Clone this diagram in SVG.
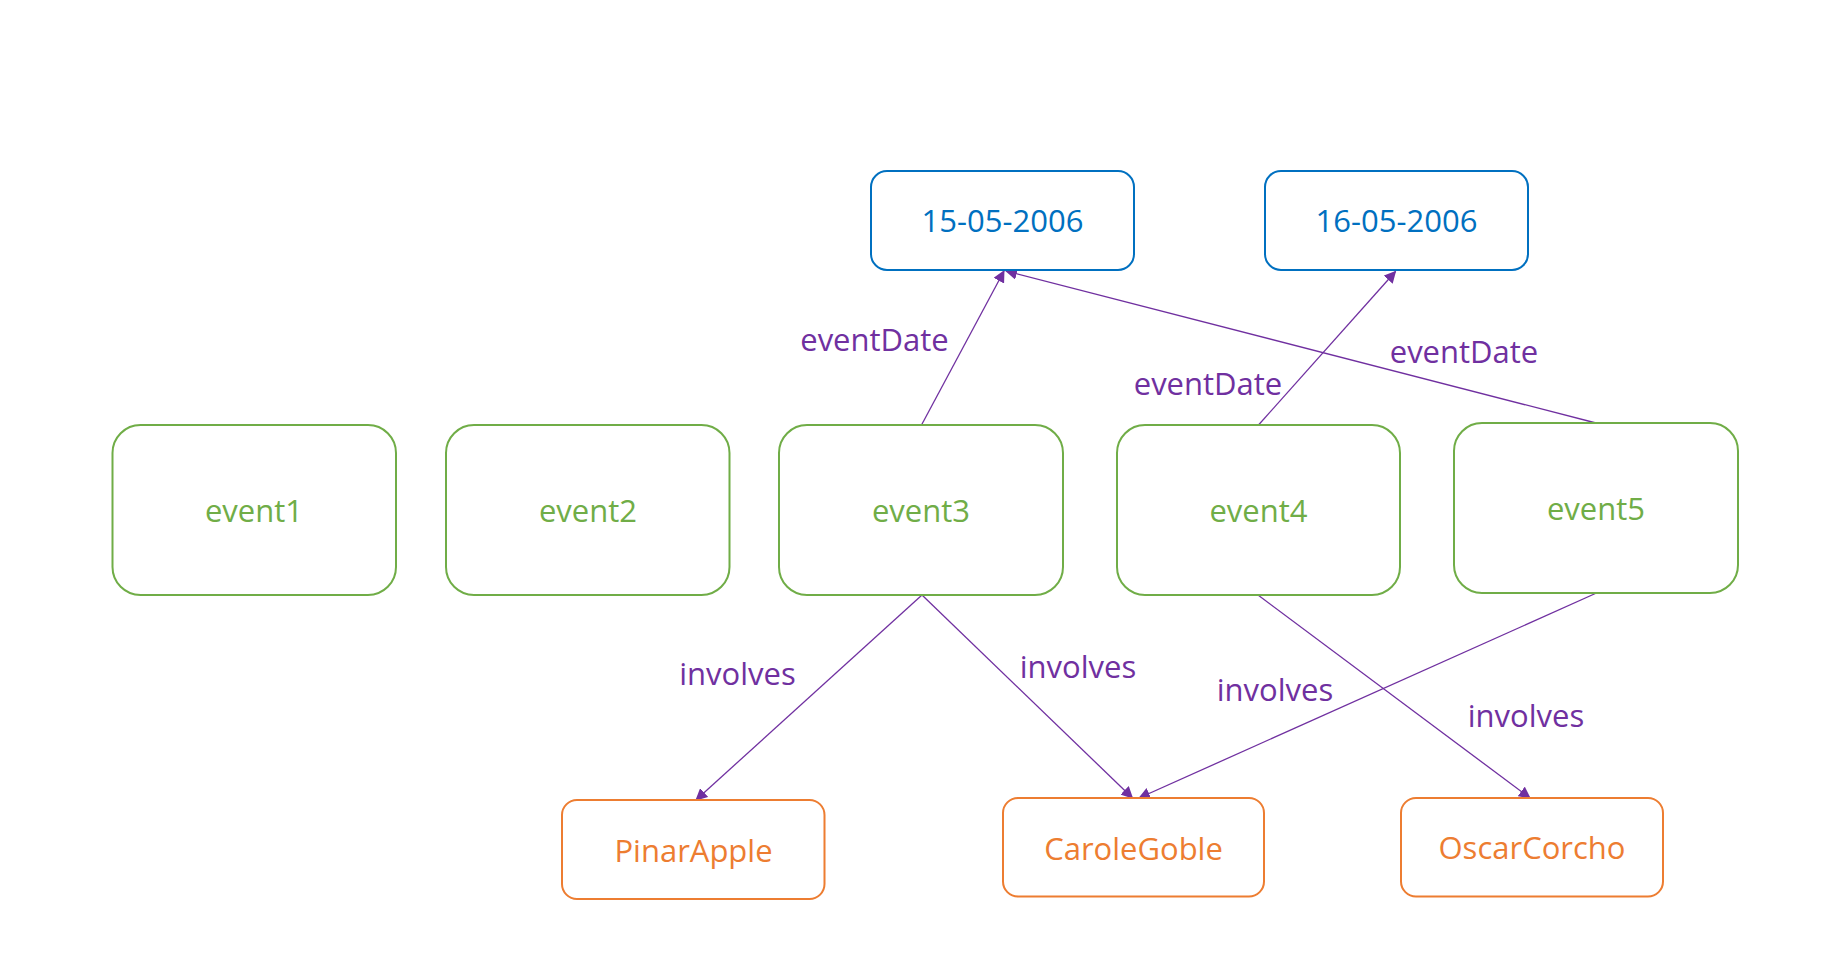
<svg xmlns="http://www.w3.org/2000/svg" width="1832" height="964" viewBox="0 0 1832 964">
<style>
text{font-family:"Open Sans","Liberation Sans",sans-serif;font-size:31px;text-anchor:middle}
.ev rect{fill:#fff;stroke:#70AD47;stroke-width:2}
.ev text{fill:#70AD47}
.dt rect{fill:#fff;stroke:#0070C0;stroke-width:2}
.dt text{fill:#0070C0}
.ps rect{fill:#fff;stroke:#ED7D31;stroke-width:2}
.ps text{fill:#ED7D31}
.edge line{stroke:#7030A0;stroke-width:1.3;fill:none;marker-end:url(#arr)}
.lbl{fill:#7030A0}
</style>
<defs>
<marker id="arr" viewBox="0 0 12 12" refX="11" refY="6" markerWidth="12" markerHeight="12" markerUnits="userSpaceOnUse" orient="auto">
<path d="M0,0 L12,6 L0,12 Z" fill="#7030A0"/>
</marker>
</defs>
<rect width="1832" height="964" fill="#fff"/>
<g id="connectors" class="edge">
<line x1="921.5" y1="425" x2="1004" y2="271"/>
<line x1="1596" y1="423" x2="1006" y2="271"/>
<line x1="1258.5" y1="425" x2="1395.5" y2="271.5"/>
<line x1="922" y1="595" x2="696" y2="800"/>
<line x1="922" y1="595" x2="1132.5" y2="798"/>
<line x1="1596.5" y1="593" x2="1139" y2="798"/>
<line x1="1258" y1="595" x2="1530" y2="798"/>
</g>
<g id="labels">
<text class="lbl" x="874.5" y="350.5">eventDate</text>
<text class="lbl" x="1208" y="395">eventDate</text>
<text class="lbl" x="1464" y="363">eventDate</text>
<text class="lbl" x="737.5" y="684.5">involves</text>
<text class="lbl" x="1078" y="677.5">involves</text>
<text class="lbl" x="1275" y="701">involves</text>
<text class="lbl" x="1526" y="727">involves</text>
</g>
<g id="date1" class="dt"><rect x="871" y="171" width="263" height="99" rx="16"/><text x="1002.5" y="231.5">15-05-2006</text></g>
<g id="date2" class="dt"><rect x="1265" y="171" width="263" height="99" rx="16"/><text x="1396.5" y="231.5">16-05-2006</text></g>
<g id="event1" class="ev"><rect x="112.5" y="425" width="283.5" height="170" rx="28"/><text x="254" y="521.5">event1</text></g>
<g id="event2" class="ev"><rect x="446" y="425" width="283.5" height="170" rx="28"/><text x="588" y="521.5">event2</text></g>
<g id="event3" class="ev"><rect x="779" y="425" width="284" height="170" rx="28"/><text x="921" y="521.5">event3</text></g>
<g id="event4" class="ev"><rect x="1117" y="425" width="283" height="170" rx="28"/><text x="1258.5" y="521.5">event4</text></g>
<g id="event5" class="ev"><rect x="1454" y="423" width="284" height="170" rx="28"/><text x="1596" y="519.5">event5</text></g>
<g id="PinarApple" class="ps"><rect x="562" y="800" width="262.5" height="99" rx="15"/><text x="693.5" y="861.5">PinarApple</text></g>
<g id="CaroleGoble" class="ps"><rect x="1003" y="798" width="261" height="98.5" rx="15"/><text x="1133.5" y="859.5">CaroleGoble</text></g>
<g id="OscarCorcho" class="ps"><rect x="1401" y="798" width="262" height="98.5" rx="15"/><text x="1532" y="858.5">OscarCorcho</text></g>
</svg>
